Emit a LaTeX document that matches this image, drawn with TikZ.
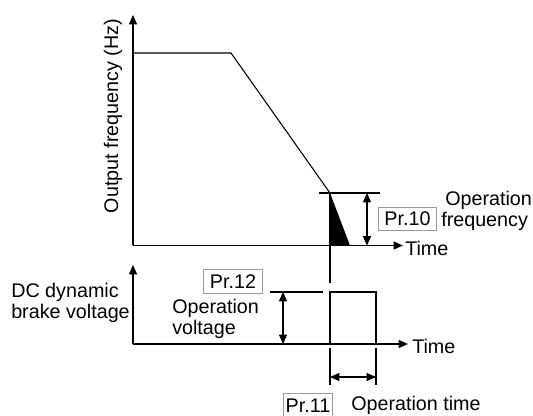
\documentclass[tikz,border=0pt]{standalone}
\usepackage{fontspec}
\setmainfont{Liberation Sans}
\usetikzlibrary{arrows.meta}
\begin{document}
\begin{tikzpicture}[x=0.75pt,y=-0.75pt,
  ln/.style={line width=0.8pt},
  arr/.style={ln,-{Triangle[length=7pt,width=6pt]}},
  darr/.style={ln,{Triangle[length=7pt,width=6pt]}-{Triangle[length=7pt,width=6pt]}},
  lbl/.style={font=\fontsize{14.8}{15.5}\selectfont,inner sep=0pt},
  pbox/.style={draw=black!40,line width=0.6pt,font=\fontsize{14.8}{15.5}\selectfont,inner sep=0pt,minimum width=#1,minimum height=17.5pt},
  pbox/.default=44pt]
\useasboundingbox (0,0) rectangle (533,416);
% ---------- top plot ----------
\coordinate (o1) at (133,245.5);
\coordinate (ytop1) at (133,15);
\coordinate (xend1) at (403,245.5);
\draw[arr] (o1) -- (ytop1);
\draw[arr] (o1) -- (xend1);
\node[lbl,anchor=west] (time1) at (405,248) {Time};
\node[lbl,rotate=90] (ylab) at (113,116) {Output frequency (Hz)};
\coordinate (f0) at (133,53);
\coordinate (f1) at (231,53);
\coordinate (f2) at (330,193);
\draw[ln] (f0) -- (f1) -- (f2);
\fill (330,193) -- (330,245.5) -- (350,245.5) -- cycle;
\coordinate (hl) at (319,193);
\coordinate (hr) at (380,193);
\draw[ln] (hl) -- (hr);
\coordinate (va) at (330,193);
\coordinate (vb) at (330,283);
\draw[ln] (va) -- (vb);
\coordinate (da) at (367,193);
\coordinate (db) at (367,245.5);
\draw[darr] (da) -- (db);
\node[pbox] (pr10) at (407.5,219) {Pr.10};
\node[lbl,anchor=west,align=left] (opf) at (441,211) {\hspace*{3pt}Operation\\frequency};
% ---------- bottom plot ----------
\coordinate (o2) at (133,344);
\coordinate (ytop2) at (133,265);
\coordinate (xend2) at (408,344);
\draw[arr] (o2) -- (ytop2);
\draw[arr] (o2) -- (xend2);
\node[lbl,anchor=west] (time2) at (412,346.5) {Time};
\node[lbl,anchor=west,align=left] (dcl) at (11,303) {DC dynamic\\brake voltage};
\coordinate (p0) at (330,344);
\coordinate (p1) at (330,292);
\coordinate (p2) at (376,292);
\coordinate (p3) at (376,344);
\draw[line width=1.4pt] (p0) -- (p1) -- (p2) -- (p3);
\coordinate (rl) at (270,292);
\coordinate (rr) at (323,292);
\draw[ln] (rl) -- (rr);
\coordinate (ua) at (283,292);
\coordinate (ub) at (283,344);
\draw[darr] (ua) -- (ub);
\node[pbox] (pr12) at (233,281.5) {Pr.12};
\node[lbl,anchor=west,align=left] (opv) at (172,319) {Operation\\voltage};
\coordinate (t0a) at (330,348);
\coordinate (t0b) at (330,385);
\coordinate (t1a) at (376,348);
\coordinate (t1b) at (376,385);
\draw[ln] (t0a) -- (t0b);
\draw[ln] (t1a) -- (t1b);
\coordinate (wa) at (330,377);
\coordinate (wb) at (376,377);
\draw[darr] (wa) -- (wb);
\node[pbox=37pt] (pr11) at (308,405.5) {Pr.11};
\node[lbl,anchor=west] (opt) at (351,405) {Operation time};
\end{tikzpicture}
\end{document}
